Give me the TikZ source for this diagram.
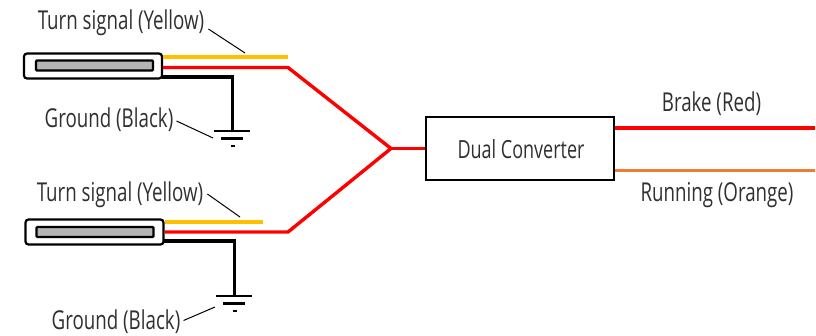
\documentclass[tikz,border=0pt]{standalone}
\usepackage{fontspec}
\setmainfont[FakeStretch=0.72]{Open Sans}
\usetikzlibrary{positioning}
\definecolor{wireyellow}{HTML}{FFC000}
\definecolor{wireorange}{HTML}{ED7D31}
\definecolor{ledgray}{HTML}{B4B4B4}
\definecolor{labeltext}{HTML}{303030}

\begin{document}
\begin{tikzpicture}[x=1pt,y=-1pt]
\tikzstyle{lamp}=[rectangle, rounded corners=3pt, draw=black, line width=2.2pt,
	fill=white, minimum width=138pt, minimum height=25pt, inner sep=0pt,
]
\tikzstyle{lens}=[rectangle, rounded corners=1pt, draw=black, line width=2.2pt,
	fill=ledgray, minimum width=117pt, minimum height=10pt, inner sep=0pt,
]
\tikzstyle{conv}=[rectangle, draw=black, line width=2.2pt, fill=white,
	minimum width=188pt, minimum height=63pt, inner sep=0pt,
]
\tikzstyle{lbl}=[inner sep=0pt, text=labeltext, font=\fontsize{26}{29}\selectfont]
\tikzstyle{wire}=[line width=3.4pt]
\tikzstyle{lead}=[line width=1pt, black]
\tikzstyle{gnd}=[line width=2.2pt, black]
\useasboundingbox (0,0) rectangle (816,335);
% converter and lamps
\node[conv] (conv) at (520,148.5) { };
\node[lbl,font=\fontsize{25}{28}\selectfont] (convtxt) at (521,149) {Dual Converter};
\node[lamp] (lampa) at (93,66) { };
\node[lens] (lensa) at (94.5,65.5) { };
\node[lamp] (lampb) at (94.5,232) { };
\node[lens] (lensb) at (95,232) { };
% upper lamp wires
\coordinate (ya) at (163,57);
\coordinate (yb) at (288,57);
\coordinate (ra) at (163,67.5);
\coordinate (rb) at (288,67.5);
\coordinate (join) at (391,148.5);
\coordinate (ka) at (162,77);
\coordinate (kb) at (232.5,77);
\coordinate (ga) at (232.5,131);
\coordinate (gb) at (214,131);
\coordinate (gc) at (250,131);
\coordinate (gd) at (221,138.5);
\coordinate (ge) at (243,138.5);
\coordinate (gf) at (230.5,146);
\coordinate (gg) at (235,146);
% lower lamp wires
\coordinate (yc) at (165,222);
\coordinate (yd) at (263,222);
\coordinate (rc) at (165,232);
\coordinate (rd) at (288,232);
\coordinate (kc) at (164,241);
\coordinate (kd) at (234.5,241);
\coordinate (ha) at (234.5,296);
\coordinate (hb) at (216,296);
\coordinate (hc) at (252,296);
\coordinate (hd) at (223,303.5);
\coordinate (he) at (245,303.5);
\coordinate (hf) at (232.5,311);
\coordinate (hg) at (237,311);
% output wires
\coordinate (bra) at (conv.east |- 0,128);
\coordinate (brb) at (815,128);
\coordinate (ora) at (conv.east |- 0,170.5);
\coordinate (orb) at (815,170.5);
\draw[wire,wireyellow] (ya) -- (yb);
\draw[wire,wireyellow] (yc) -- (yd);
\draw[wire,red,line join=miter] (ra) -- (rb) -- (join) -- (rd) -- (rc);
\draw[wire,red] (join) -- (conv.west);
\draw[wire,black] (ka) -- (kb) -- (ga);
\draw[wire,black] (kc) -- (kd) -- (ha);
\draw[wire,red] (bra) -- (brb);
\draw[wire,wireorange,line width=3pt] (ora) -- (orb);
\draw[gnd] (gb) -- (gc);
\draw[gnd] (gd) -- (ge);
\draw[gnd] (gf) -- (gg);
\draw[gnd] (hb) -- (hc);
\draw[gnd] (hd) -- (he);
\draw[gnd] (hf) -- (hg);
% labels
\node[lbl] (turna) at (121,23) {Turn signal (Yellow)};
\node[lbl] (grda) at (109,120) {Ground (Black)};
\node[lbl] (turnb) at (120,195) {Turn signal (Yellow)};
\node[lbl] (grdb) at (116,321.5) {Ground (Black)};
\node[lbl] (brake) at (711.5,104) {Brake (Red)};
\node[lbl] (run) at (717,195.5) {Running (Orange)};
% leaders
\coordinate (la) at (245,53);
\coordinate (lb) at (213,138);
\coordinate (lc) at (240,217);
\coordinate (ld) at (215,307);
\draw[lead] (turna.east) ++(4,6) -- (la);
\draw[lead] (grda.east) ++(3,1) -- (lb);
\draw[lead] (turnb.east) ++(4,-1) -- (lc);
\draw[lead] (grdb.east) ++(3,-1) -- (ld);

\end{tikzpicture}
\end{document}
